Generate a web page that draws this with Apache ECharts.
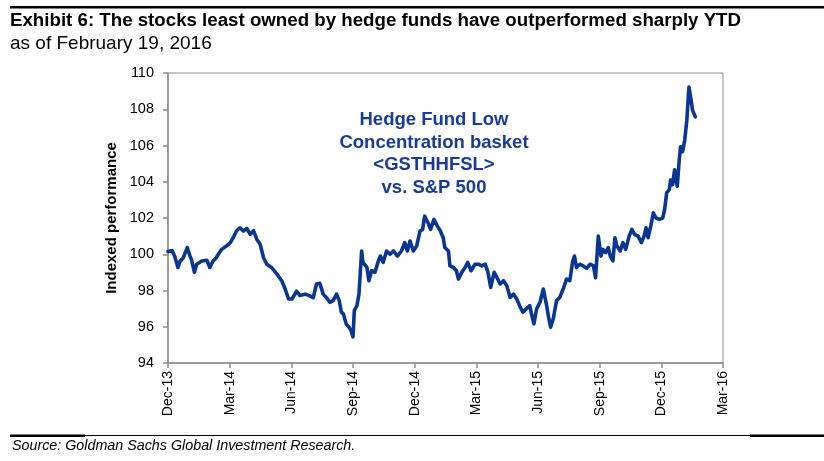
<!DOCTYPE html>
<html>
<head>
<meta charset="utf-8">
<script src="https://cdn.jsdelivr.net/npm/echarts@6/dist/echarts.min.js"></script>
<style>
html,body{margin:0;padding:0;background:#fff;}
#chart{width:824px;height:461px;}
</style>
</head>
<body>
<div id="chart"></div>
<script>
// Tick labels (month-end positions, every 3 months)
const tickLabels = ['Dec-13','Mar-14','Jun-14','Sep-14','Dec-14','Mar-15','Jun-15','Sep-15','Dec-15','Mar-16'];

// Observation dates
const dates = [
'2013-12-31','2014-01-06','2014-01-10','2014-01-15','2014-01-18','2014-01-23','2014-01-29','2014-02-02','2014-02-04','2014-02-08',
'2014-02-11','2014-02-18','2014-02-25','2014-03-01','2014-03-06','2014-03-11','2014-03-14','2014-03-19','2014-03-26','2014-04-01',
'2014-04-05','2014-04-10','2014-04-15','2014-04-20','2014-04-25','2014-04-30','2014-05-05','2014-05-10','2014-05-15','2014-05-20',
'2014-05-25','2014-06-01','2014-06-09','2014-06-16','2014-06-21','2014-06-26','2014-07-01','2014-07-08','2014-07-13','2014-07-21',
'2014-07-28','2014-08-02','2014-08-07','2014-08-12','2014-08-17','2014-08-22','2014-08-27','2014-09-01','2014-09-06','2014-09-10',
'2014-09-13','2014-09-16','2014-09-20','2014-09-24','2014-09-27','2014-09-30','2014-10-02','2014-10-06','2014-10-09','2014-10-13',
'2014-10-15','2014-10-21','2014-10-24','2014-10-28','2014-11-02','2014-11-07','2014-11-10','2014-11-14','2014-11-19','2014-11-24',
'2014-11-29','2014-12-05','2014-12-11','2014-12-16','2014-12-20','2014-12-24','2014-12-29','2015-01-03','2015-01-08','2015-01-12',
'2015-01-15','2015-01-20','2015-01-24','2015-01-29','2015-02-03','2015-02-07','2015-02-11','2015-02-13','2015-02-18','2015-02-20',
'2015-02-25','2015-03-01','2015-03-04','2015-03-09','2015-03-14','2015-03-18','2015-03-23','2015-03-29','2015-04-03','2015-04-08',
'2015-04-13','2015-04-17','2015-04-21','2015-04-26','2015-04-30','2015-05-05','2015-05-10','2015-05-15','2015-05-20','2015-05-25',
'2015-05-30','2015-06-04','2015-06-08','2015-06-13','2015-06-18','2015-06-21','2015-06-24','2015-06-28','2015-07-03','2015-07-08',
'2015-07-13','2015-07-16','2015-07-19','2015-07-23','2015-07-28','2015-08-02','2015-08-07','2015-08-12','2015-08-17','2015-08-21',
'2015-08-24','2015-08-27','2015-09-01','2015-09-06','2015-09-11','2015-09-16','2015-09-21','2015-09-24','2015-09-28','2015-10-02',
'2015-10-05','2015-10-09','2015-10-13','2015-10-16','2015-10-20','2015-10-23','2015-10-26','2015-10-31','2015-11-04','2015-11-08',
'2015-11-13','2015-11-17','2015-11-21','2015-11-26','2015-12-01','2015-12-05','2015-12-08','2015-12-11','2015-12-15','2015-12-19',
'2015-12-23','2015-12-28','2016-01-02','2016-01-05','2016-01-08','2016-01-12','2016-01-14','2016-01-17','2016-01-20','2016-01-24',
'2016-01-27','2016-01-29','2016-02-01','2016-02-04','2016-02-07','2016-02-09','2016-02-10','2016-02-13','2016-02-15','2016-02-19'
];

// Indexed performance values
const values = [
100.15,100.2,99.9,99.27,99.6,99.8,100.37,99.9,99.7,99.0,
99.45,99.63,99.67,99.27,99.63,99.82,100.0,100.27,100.45,100.64,
100.9,101.28,101.46,101.28,101.42,101.1,101.3,100.82,100.55,99.82,
99.45,99.27,98.9,98.54,98.08,97.53,97.53,97.96,97.72,97.8,
97.7,97.6,98.36,98.4,97.8,97.6,97.35,97.44,97.8,97.44,
96.8,96.71,96.16,95.98,95.8,95.44,96.9,97.17,97.8,100.18,
99.55,99.27,98.54,99.09,99.0,99.63,99.9,99.55,100.18,100.0,
100.18,99.9,100.18,100.64,100.18,100.73,100.18,100.45,101.28,101.37,
102.1,101.74,101.37,101.92,101.55,101.28,100.9,100.37,100.18,99.36,
99.27,99.09,98.63,99.0,99.27,99.55,99.09,99.45,99.45,99.36,
99.45,99.0,98.17,99.0,98.72,98.36,98.54,98.26,97.62,97.8,
97.53,97.08,96.8,96.99,97.17,96.62,96.16,96.99,97.35,98.08,
97.17,96.53,95.98,96.44,97.44,97.63,98.08,98.63,98.54,99.55,
99.9,99.27,99.45,99.36,99.22,99.45,99.36,98.7,101.0,99.9,
100.27,100.09,100.37,99.9,99.63,100.91,100.45,100.18,100.64,100.27,
101.0,101.37,101.1,101.0,100.64,101.0,101.46,100.91,101.55,102.28,
102.0,101.92,102.0,102.47,103.38,103.56,104.1,103.84,104.66,103.75,
105.2,105.93,105.66,106.3,107.4,108.67,109.22,108.49,107.95,107.58
];

// Position in months after 31-Dec-2013 (month-end anchored)
function monthPos(s){
  const p = s.split('-').map(Number);
  const dim = new Date(Date.UTC(p[0], p[1], 0)).getUTCDate();
  return (p[0]-2013)*12 + (p[1]-12) - 1 + p[2]/dim;
}
const seriesData = dates.map((d,i)=>[monthPos(d), values[i]]);

const chart = echarts.init(document.getElementById('chart'), null, {renderer:'canvas'});
const sans = "'Liberation Sans',Arial,sans-serif";
chart.setOption({
  animation:false,
  backgroundColor:'#fff',
  grid:{left:168, top:73, right:101, bottom:98, show:true, borderColor:'#8c8c8c', borderWidth:1},
  xAxis:{
    type:'value', min:0, max:27, interval:3,
    axisLine:{show:true, lineStyle:{color:'#8c8c8c', width:1.5}},
    axisTick:{show:true, inside:false, length:5, lineStyle:{color:'#8c8c8c', width:1.5}},
    splitLine:{show:false},
    axisLabel:{rotate:90, margin:8, color:'#000', fontFamily:sans, fontSize:14,
      formatter:(v)=>tickLabels[Math.round(v/3)]}
  },
  yAxis:{
    type:'value', min:94, max:110, interval:2,
    name:'Indexed performance', nameLocation:'middle', nameGap:46,
    nameTextStyle:{fontFamily:sans, fontSize:15, fontWeight:'bold', color:'#000'},
    axisLine:{show:true, lineStyle:{color:'#8c8c8c', width:1.5}},
    axisTick:{show:true, inside:false, length:5, lineStyle:{color:'#8c8c8c', width:1.5}},
    splitLine:{show:false},
    axisLabel:{margin:14, color:'#000', fontFamily:sans, fontSize:14.5}
  },
  series:[{
    type:'line', data:seriesData, showSymbol:false, smooth:false,
    lineStyle:{color:'#0b3592', width:3.6, join:'round', cap:'round'},
    z:3
  }],
  graphic:[
    {type:'rect', shape:{x:10, y:6, width:814, height:2.5}, style:{fill:'#000'}},
    {type:'text', left:10, top:11, style:{text:'Exhibit 6: The stocks least owned by hedge funds have outperformed sharply YTD', fontFamily:sans, fontWeight:'bold', fontSize:18.7, fill:'#000'}},
    {type:'text', left:10, top:34, style:{text:'as of February 19, 2016', fontFamily:sans, fontSize:19, fill:'#000'}},
    {type:'rect', shape:{x:10, y:435, width:814, height:1}, style:{fill:'#000'}},
    {type:'rect', shape:{x:10, y:434.5, width:75, height:2.5}, style:{fill:'#000'}},
    {type:'rect', shape:{x:750, y:434.5, width:74, height:2.5}, style:{fill:'#000'}},
    {type:'text', left:12, top:439, style:{text:'Source: Goldman Sachs Global Investment Research.', fontFamily:sans, fontStyle:'italic', fontSize:14.3, fill:'#000'}},
    {type:'text', x:434, y:109, style:{text:'Hedge Fund Low\nConcentration basket\n<GSTHHFSL>\nvs. S&P 500', textAlign:'center', fontFamily:sans, fontWeight:'bold', fontSize:18.5, lineHeight:22.5, fill:'#1a3a99'}}
  ]
});
</script>
</body>
</html>
